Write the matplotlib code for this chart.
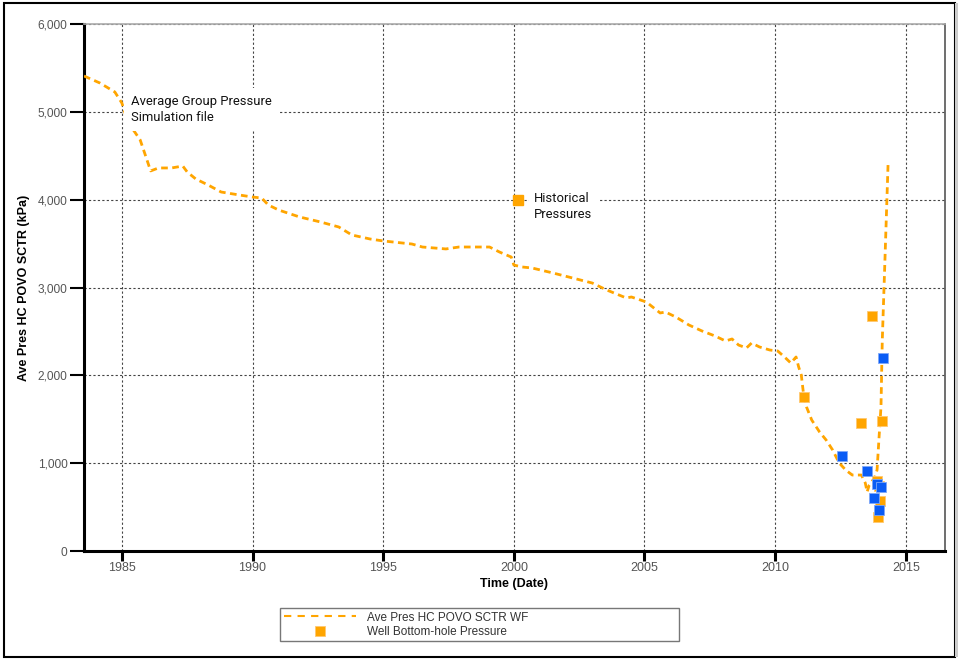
"""
Average group pressure (simulation) vs historical well bottom-hole pressures.
"""

import matplotlib
matplotlib.use("Agg")
import matplotlib.pyplot as plt
from matplotlib.ticker import FuncFormatter, MultipleLocator
from matplotlib.patches import Rectangle

plt.rcParams['font.family'] = ['Liberation Sans', 'DejaVu Sans']

# --- Simulation curve (Ave Pres HC POVO SCTR WF) ---
sim_year = [1983.55, 1984.16, 1984.73, 1985.0, 1985.23, 1985.7, 1985.96, 1986.1,
            1986.4, 1986.9, 1987.33, 1987.5, 1987.83, 1988.3, 1988.8, 1989.5,
            1990.0, 1990.35, 1990.6, 1991.0, 1991.8, 1992.6, 1993.3, 1993.8,
            1994.5, 1995.0, 1996.1, 1996.5, 1997.4, 1997.9, 1999.07, 1999.45,
            1999.9, 2000.0, 2000.3, 2000.7, 2001.5, 2002.25, 2003.0, 2003.55,
            2004.3, 2004.5, 2005.07, 2005.6, 2005.8, 2006.2, 2006.7, 2007.2,
            2007.7, 2008.1, 2008.35, 2008.6, 2008.9, 2009.1, 2009.4, 2009.8,
            2010.1, 2010.4, 2010.6, 2010.8, 2010.9, 2011.0, 2011.1, 2011.2,
            2011.4, 2011.7, 2011.95, 2012.2, 2012.45, 2012.7, 2012.95, 2013.3,
            2013.45, 2013.52, 2013.6, 2013.8, 2013.9, 2013.97, 2014.05, 2014.1,
            2014.2, 2014.32]
sim_pres = [5408, 5328, 5226, 5100, 4884, 4680, 4452, 4327,
            4361, 4361, 4383, 4315, 4235, 4167, 4087, 4053,
            4030, 4019, 3940, 3882, 3803, 3746, 3689, 3598,
            3552, 3530, 3495, 3461, 3439, 3461, 3461, 3404,
            3347, 3256, 3234, 3222, 3165, 3108, 3051, 2972,
            2881, 2892, 2835, 2710, 2721, 2664, 2573, 2505,
            2448, 2391, 2414, 2345, 2311, 2368, 2323, 2288,
            2277, 2197, 2140, 2209, 2095, 2004, 1753, 1640,
            1491, 1355, 1264, 1150, 1002, 922, 865, 865,
            774, 672, 751, 831, 922, 1264, 1640, 2402,
            3300, 4395]

# --- Well bottom-hole pressure measurements ---
obs_orange_year = [2011.1, 2013.29, 2013.7, 2014.08, 2013.88, 2013.97, 2014.0, 2013.94]
obs_orange_pres = [1753, 1457, 2676, 1484, 800, 740, 569, 387]
obs_blue_year = [2014.12, 2012.57, 2013.52, 2013.9, 2014.05, 2013.78, 2013.97]
obs_blue_pres = [2197, 1082, 911, 763, 729, 603, 467]

ORANGE = '#FFA500'
BLUE = '#0A5CF5'

fig = plt.figure(figsize=(9.58, 6.59), dpi=100)
ax = fig.add_axes([84 / 958, 108 / 659, 861 / 958, 527 / 659])

ax.plot(sim_year, sim_pres, color=ORANGE, lw=2, linestyle=(0, (2.4, 1.6)),
        label='Ave Pres HC POVO SCTR WF', zorder=3)
ax.plot(obs_orange_year, obs_orange_pres, 's', color=ORANGE, ms=7.5, mec='#FFC870',
        mew=0.6, linestyle='none', label='Well Bottom-hole Pressure', zorder=4)
ax.plot(obs_blue_year, obs_blue_pres, 's', color=BLUE, ms=7.5, mec='#7FA8F8',
        mew=0.6, linestyle='none', zorder=5)

# Axes limits and ticks
ax.set_xlim(1983.55, 2016.5)
ax.set_ylim(0, 6000)
ax.xaxis.set_major_locator(MultipleLocator(5))
ax.yaxis.set_major_locator(MultipleLocator(1000))
ax.yaxis.set_major_formatter(FuncFormatter(lambda v, p: f'{int(v):,}'))
ax.tick_params(axis='x', length=7, width=2.2, color='black', labelcolor='#555555',
               labelsize=9, pad=1)
ax.tick_params(axis='y', length=10, width=1.5, color='black', labelcolor='#555555',
               labelsize=8.6, pad=2)

ax.grid(True, color='#444444', linestyle=(0, (2, 2)), linewidth=0.8, zorder=1)

for side in ['left', 'bottom']:
    ax.spines[side].set_linewidth(2.2)
    ax.spines[side].set_color('black')
ax.spines['top'].set_color('#aaaaaa')
ax.spines['top'].set_linewidth(1.2)
ax.spines['right'].set_color('#555555')
ax.spines['right'].set_linewidth(1.2)

ax.set_xlabel('Time (Date)', fontsize=9, fontweight='bold', labelpad=3)
ax.set_ylabel('Ave Pres HC POVO SCTR (kPa)', fontsize=9, fontweight='bold')
ax.yaxis.set_label_coords(-0.0625, 0.5)

# In-plot annotations
note_font = ['Roboto', 'DejaVu Sans']
ax.text(0.0546, 0.866, 'Average Group Pressure\nSimulation file', transform=ax.transAxes,
        fontsize=9.4, family=note_font, color='#111111', va='top', ha='left',
        linespacing=1.35, zorder=6, bbox=dict(facecolor='white', edgecolor='none', pad=5))
ax.plot([0.504], [0.6667], 's', transform=ax.transAxes, color=ORANGE, ms=7.5, zorder=6)
ax.text(0.523, 0.682, 'Historical\nPressures', transform=ax.transAxes,
        fontsize=9.4, family=note_font, color='#111111', va='top', ha='left',
        linespacing=1.35, zorder=6, bbox=dict(facecolor='white', edgecolor='none', pad=4))

leg = ax.legend(loc='upper left', bbox_to_anchor=(196 / 861, -57 / 527, 399 / 861, 0),
                mode='expand', borderaxespad=0, ncol=1,
                fontsize=8.5, frameon=True, fancybox=False, handlelength=6.1,
                borderpad=0.3, labelspacing=0.2, handletextpad=1.0)
leg.get_frame().set_edgecolor('#555555')
leg.get_frame().set_linewidth(1)
for t in leg.get_texts():
    t.set_color('#333333')
leg.get_lines()[0].set_linestyle((0, (3.5, 3)))
leg.get_lines()[0].set_linewidth(1.5)

# Outer frame around the figure
fig.patches.append(Rectangle((4 / 958, 2 / 659), 951 / 958, 654 / 659, transform=fig.transFigure,
                             fill=False, edgecolor='black', linewidth=1.5))
fig.patches.append(Rectangle((955 / 958, 2 / 659), 3 / 958, 654 / 659, transform=fig.transFigure,
                             facecolor='#cccccc', edgecolor='none'))

fig.savefig('out.png', dpi=100)
